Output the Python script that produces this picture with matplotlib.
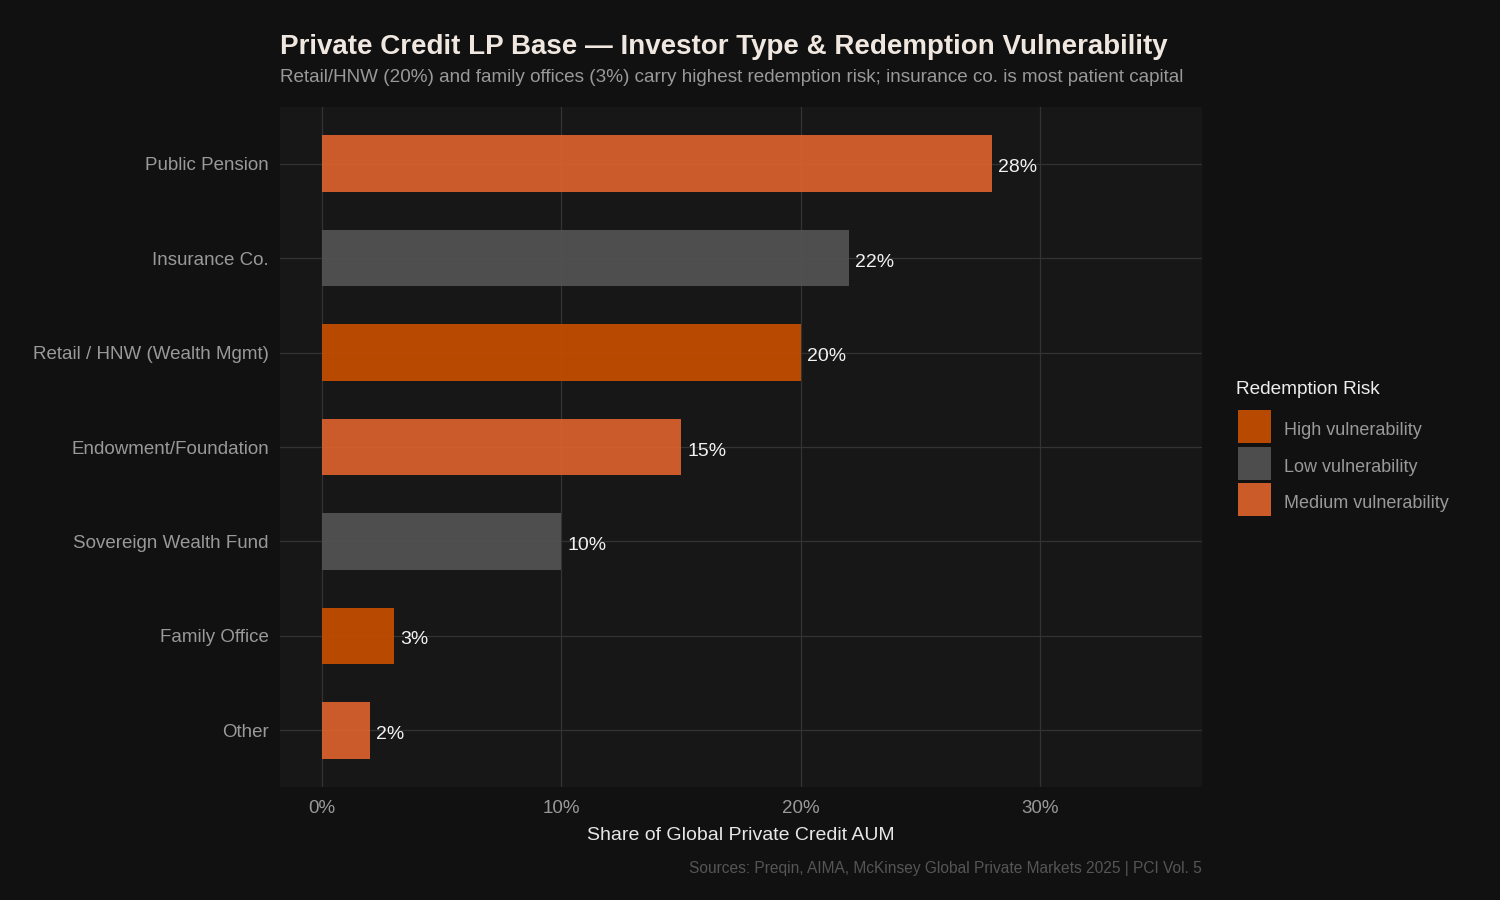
import matplotlib
matplotlib.use("Agg")
import matplotlib.pyplot as plt
import matplotlib.transforms as mtransforms
from matplotlib.patches import Rectangle

# data (top to bottom as shown)
investors = ["Public Pension", "Insurance Co.", "Retail / HNW (Wealth Mgmt)",
             "Endowment/Foundation", "Sovereign Wealth Fund", "Family Office", "Other"]
share_pct = [28, 22, 20, 15, 10, 3, 2]
risk = ["Medium", "Low", "High", "Medium", "Low", "High", "Medium"]

risk_order = ["High", "Low", "Medium"]
risk_colors = {"High": "#C64E00", "Low": "#535353", "Medium": "#DC622C"}
risk_labels = {"High": "High vulnerability", "Low": "Low vulnerability",
               "Medium": "Medium vulnerability"}
BAR_ALPHA = 0.92

plt.rcParams["font.family"] = ["Liberation Sans", "DejaVu Sans"]

W, H = 1500, 900
fig = plt.figure(figsize=(15, 9), dpi=100, facecolor="#111111")
ax = fig.add_axes([280 / W, 1 - 787 / H, 922 / W, 680 / H])
ax.set_facecolor("#171717")

n = len(investors)
ypos = [n - i for i in range(n)]
colors = [risk_colors[r] for r in risk]
ax.barh(ypos, share_pct, height=0.6, color=colors, alpha=BAR_ALPHA, zorder=3)

# nudge text down ~2px to match the reference baseline
down = mtransforms.ScaledTranslation(0, -2 / 100, fig.dpi_scale_trans)

for y, v in zip(ypos, share_pct):
    ax.text(v + 0.25, y, f"{v}%", va="center_baseline", ha="left", fontsize=14,
            color="#f2f2f2", zorder=4, transform=ax.transData + down)

ax.set_xlim(-1.75, 36.75)
ax.set_ylim(0.4, n + 0.6)
ax.set_xticks([0, 10, 20, 30])
ax.set_xticklabels(["0%", "10%", "20%", "30%"])
ax.set_yticks(ypos)
ax.set_yticklabels(investors, va="center_baseline")
for lbl in ax.get_yticklabels():
    lbl.set_transform(lbl.get_transform() + down)
ax.tick_params(axis="both", length=0, colors="#999999", labelsize=13.5)
ax.tick_params(axis="y", pad=8)
ax.tick_params(axis="x", pad=9.5)
ax.grid(True, color="#333333", linewidth=0.9, zorder=0)
for s in ax.spines.values():
    s.set_visible(False)

ax.set_xlabel("Share of Global Private Credit AUM", color="#e6e6e6",
              fontsize=14, labelpad=7)

fig.text(280 / W, 1 - 47 / H, "Private Credit LP Base \u2014 Investor Type & Redemption Vulnerability",
         fontsize=20, fontweight="bold", color="#f0e8e0", va="center", ha="left")
fig.text(280 / W, 1 - 78 / H,
         "Retail/HNW (20%) and family offices (3%) carry highest redemption risk; insurance co. is most patient capital",
         fontsize=13.6, color="#999999", va="center", ha="left")
fig.text(1202 / W, 1 - 868 / H,
         "Sources: Preqin, AIMA, McKinsey Global Private Markets 2025 | PCI Vol. 5",
         fontsize=11.2, color="#555555", va="center", ha="right")

# legend drawn by hand to match key size and spacing
fig.text(1236 / W, 1 - 390 / H, "Redemption Risk", fontsize=13.7, color="#eeeeee",
         va="center", ha="left")
key = 33
for i, k in enumerate(risk_order):
    top = 410 + i * 36.5
    fig.add_artist(Rectangle((1238 / W, 1 - (top + key) / H), key / W, key / H,
                             transform=fig.transFigure, facecolor=risk_colors[k],
                             alpha=BAR_ALPHA, edgecolor="none"))
    fig.text(1284 / W, 1 - (top + key / 2 + 2) / H, risk_labels[k], fontsize=13,
             color="#999999", va="center_baseline", ha="left")

fig.savefig("out.png", dpi=100, facecolor=fig.get_facecolor())
